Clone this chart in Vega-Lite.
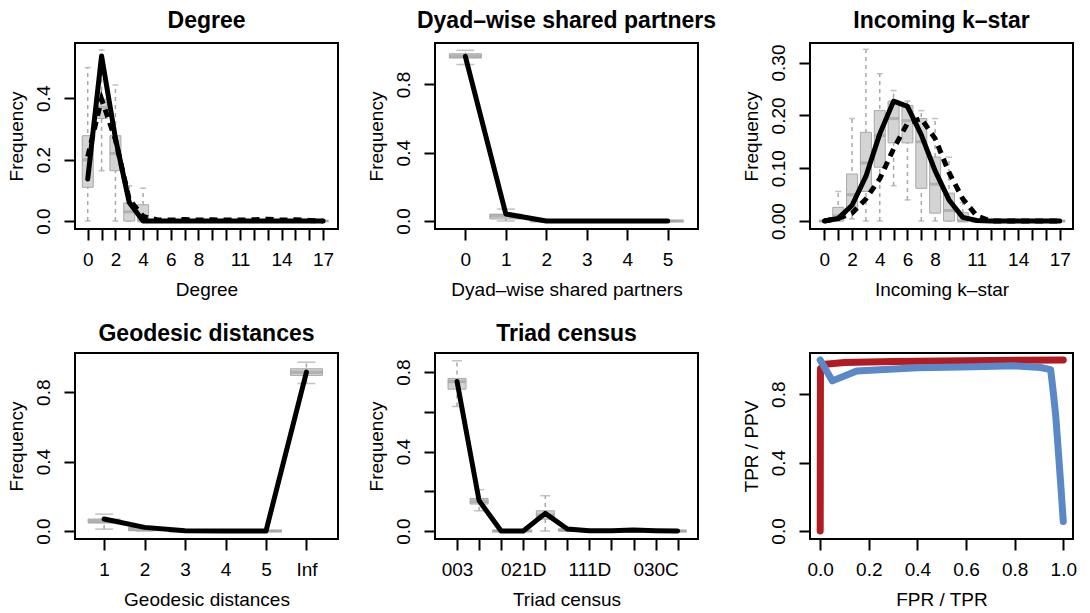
{
  "$schema": "https://vega.github.io/schema/vega-lite/v6.json",
  "background": "white",
  "padding": {"left": 5, "top": 9, "right": 0, "bottom": 0},
  "config": {
    "font": "Liberation Sans",
    "view": {"stroke": null},
    "axis": {"domain": false, "grid": false, "tickColor": "black", "tickWidth": 2, "tickSize": 11,
      "labelColor": "black", "labelFont": "Liberation Sans", "labelFontSize": 19,
      "titleFont": "Liberation Sans", "titleFontSize": 19, "titleFontWeight": "normal", "titleColor": "black",
      "labelOverlap": false, "labelFlush": false, "labelBound": false},
    "axisX": {"labelAngle": 0, "labelPadding": 10, "titlePadding": 11},
    "axisY": {"labelAngle": -90, "labelAlign": "center", "labelBaseline": "alphabetic", "labelPadding": 15, "titlePadding": 8},
    "title": {"fontSize": 23, "fontWeight": "bold", "font": "Liberation Sans", "color": "black", "anchor": "middle", "frame": "group", "offset": 10, "baseline": "alphabetic"}
  },
  "datasets": {
    "deg": [
      {"k": "0", "lo": 0, "q1": 0.11, "med": 0.2, "q3": 0.278, "hi": 0.5, "obs": 0.137, "sim": 0.21},
      {"k": "1", "lo": 0.164, "q1": 0.334, "med": 0.37, "q3": 0.397, "hi": 0.557, "obs": 0.538, "sim": 0.397},
      {"k": "2", "lo": 0, "q1": 0.164, "med": 0.22, "q3": 0.278, "hi": 0.443, "obs": 0.27, "sim": 0.265},
      {"k": "3", "lo": 0, "q1": 0, "med": 0.03, "q3": 0.059, "hi": 0.115, "obs": 0.06, "sim": 0.07},
      {"k": "4", "lo": 0, "q1": 0, "med": 0, "q3": 0.053, "hi": 0.107, "obs": 0.0, "sim": 0.015},
      {"k": "5", "lo": 0, "q1": 0, "med": 0, "q3": 0, "hi": 0, "obs": 0, "sim": 0.004},
      {"k": "6", "lo": 0, "q1": 0, "med": 0, "q3": 0, "hi": 0, "obs": 0, "sim": 0.003},
      {"k": "7", "lo": 0, "q1": 0, "med": 0, "q3": 0, "hi": 0, "obs": 0, "sim": 0.005},
      {"k": "8", "lo": 0, "q1": 0, "med": 0, "q3": 0, "hi": 0, "obs": 0, "sim": 0.003},
      {"k": "9", "lo": 0, "q1": 0, "med": 0, "q3": 0, "hi": 0, "obs": 0, "sim": 0.004},
      {"k": "10", "lo": 0, "q1": 0, "med": 0, "q3": 0, "hi": 0, "obs": 0, "sim": 0.003},
      {"k": "11", "lo": 0, "q1": 0, "med": 0, "q3": 0, "hi": 0, "obs": 0, "sim": 0.003},
      {"k": "12", "lo": 0, "q1": 0, "med": 0, "q3": 0, "hi": 0, "obs": 0, "sim": 0.004},
      {"k": "13", "lo": 0, "q1": 0, "med": 0, "q3": 0, "hi": 0, "obs": 0, "sim": 0.006},
      {"k": "14", "lo": 0, "q1": 0, "med": 0, "q3": 0, "hi": 0, "obs": 0, "sim": 0.003},
      {"k": "15", "lo": 0, "q1": 0, "med": 0, "q3": 0, "hi": 0, "obs": 0, "sim": 0.004},
      {"k": "16", "lo": 0, "q1": 0, "med": 0, "q3": 0, "hi": 0, "obs": 0, "sim": 0.002},
      {"k": "17", "lo": 0, "q1": 0, "med": 0, "q3": 0, "hi": 0, "obs": 0, "sim": 0.0}
    ],
    "dsp": [
      {"k": "0", "lo": 0.917, "q1": 0.955, "med": 0.965, "q3": 0.98, "hi": 1.0, "obs": 0.965},
      {"k": "1", "lo": 0.0, "q1": 0.012, "med": 0.03, "q3": 0.04, "hi": 0.07, "obs": 0.041},
      {"k": "2", "lo": 0, "q1": 0, "med": 0, "q3": 0.003, "hi": 0.006, "obs": 0.0},
      {"k": "3", "lo": 0, "q1": 0, "med": 0, "q3": 0, "hi": 0, "obs": 0.0},
      {"k": "4", "lo": 0, "q1": 0, "med": 0, "q3": 0, "hi": 0, "obs": 0.0},
      {"k": "5", "lo": 0, "q1": 0, "med": 0, "q3": 0, "hi": 0, "obs": 0.0}
    ],
    "ks": [
      {"k": "0", "lo": 0, "q1": 0, "med": 0, "q3": 0, "hi": 0, "obs": 0, "sim": 0},
      {"k": "1", "lo": 0, "q1": 0, "med": 0.01, "q3": 0.026, "hi": 0.056, "obs": 0.005, "sim": 0.005},
      {"k": "2", "lo": 0.004, "q1": 0.02, "med": 0.05, "q3": 0.089, "hi": 0.194, "obs": 0.03, "sim": 0.015},
      {"k": "3", "lo": 0, "q1": 0.056, "med": 0.11, "q3": 0.168, "hi": 0.325, "obs": 0.085, "sim": 0.042},
      {"k": "4", "lo": 0, "q1": 0.102, "med": 0.162, "q3": 0.209, "hi": 0.279, "obs": 0.165, "sim": 0.08},
      {"k": "5", "lo": 0.067, "q1": 0.148, "med": 0.194, "q3": 0.227, "hi": 0.247, "obs": 0.227, "sim": 0.137},
      {"k": "6", "lo": 0.04, "q1": 0.148, "med": 0.19, "q3": 0.219, "hi": 0.227, "obs": 0.217, "sim": 0.185},
      {"k": "7", "lo": 0, "q1": 0.062, "med": 0.15, "q3": 0.194, "hi": 0.209, "obs": 0.163, "sim": 0.194},
      {"k": "8", "lo": 0, "q1": 0.015, "med": 0.07, "q3": 0.121, "hi": 0.194, "obs": 0.095, "sim": 0.156},
      {"k": "9", "lo": 0, "q1": 0, "med": 0.02, "q3": 0.053, "hi": 0.121, "obs": 0.04, "sim": 0.092},
      {"k": "10", "lo": 0, "q1": 0, "med": 0, "q3": 0.016, "hi": 0.035, "obs": 0.007, "sim": 0.042},
      {"k": "11", "lo": 0, "q1": 0, "med": 0, "q3": 0, "hi": 0, "obs": 0.001, "sim": 0.01},
      {"k": "12", "lo": 0, "q1": 0, "med": 0, "q3": 0, "hi": 0, "obs": 0, "sim": 0},
      {"k": "13", "lo": 0, "q1": 0, "med": 0, "q3": 0, "hi": 0, "obs": 0, "sim": 0},
      {"k": "14", "lo": 0, "q1": 0, "med": 0, "q3": 0, "hi": 0, "obs": 0, "sim": 0},
      {"k": "15", "lo": 0, "q1": 0, "med": 0, "q3": 0, "hi": 0, "obs": 0, "sim": 0},
      {"k": "16", "lo": 0, "q1": 0, "med": 0, "q3": 0, "hi": 0, "obs": 0, "sim": 0},
      {"k": "17", "lo": 0, "q1": 0, "med": 0, "q3": 0, "hi": 0, "obs": 0, "sim": 0}
    ],
    "geo": [
      {"k": "1", "lo": 0.011, "q1": 0.046, "med": 0.057, "q3": 0.069, "hi": 0.097, "obs": 0.069},
      {"k": "2", "lo": 0, "q1": 0.002, "med": 0.01, "q3": 0.02, "hi": 0.025, "obs": 0.021},
      {"k": "3", "lo": 0, "q1": 0, "med": 0, "q3": 0, "hi": 0, "obs": 0.002},
      {"k": "4", "lo": 0, "q1": 0, "med": 0, "q3": 0, "hi": 0, "obs": 0.0},
      {"k": "5", "lo": 0, "q1": 0, "med": 0, "q3": 0, "hi": 0, "obs": 0.0},
      {"k": "Inf", "lo": 0.85, "q1": 0.897, "med": 0.915, "q3": 0.935, "hi": 0.973, "obs": 0.916}
    ],
    "tri": [
      {"k": "003", "lo": 0.627, "q1": 0.714, "med": 0.753, "q3": 0.768, "hi": 0.857, "obs": 0.753},
      {"k": "012", "lo": 0.102, "q1": 0.136, "med": 0.15, "q3": 0.164, "hi": 0.208, "obs": 0.153},
      {"k": "102", "lo": 0, "q1": 0, "med": 0, "q3": 0, "hi": 0, "obs": 0.0},
      {"k": "021D", "lo": 0, "q1": 0, "med": 0, "q3": 0, "hi": 0, "obs": 0.0},
      {"k": "021U", "lo": 0, "q1": 0.06, "med": 0.08, "q3": 0.102, "hi": 0.178, "obs": 0.089},
      {"k": "021C", "lo": 0, "q1": 0, "med": 0.005, "q3": 0.01, "hi": 0.015, "obs": 0.01},
      {"k": "111D", "lo": 0, "q1": 0, "med": 0, "q3": 0, "hi": 0, "obs": 0.002},
      {"k": "111U", "lo": 0, "q1": 0, "med": 0, "q3": 0, "hi": 0, "obs": 0.001},
      {"k": "030T", "lo": 0, "q1": 0, "med": 0, "q3": 0.003, "hi": 0.006, "obs": 0.005},
      {"k": "030C", "lo": 0, "q1": 0, "med": 0, "q3": 0, "hi": 0, "obs": 0.002},
      {"k": "201", "lo": 0, "q1": 0, "med": 0, "q3": 0, "hi": 0, "obs": 0.0}
    ],
    "roc": [
      {"x": 0.0, "y": 0.0}, {"x": 0.001, "y": 0.95}, {"x": 0.02, "y": 0.975}, {"x": 0.1, "y": 0.985},
      {"x": 0.3, "y": 0.992}, {"x": 0.6, "y": 0.996}, {"x": 1.0, "y": 1.0}
    ],
    "pr": [
      {"x": 0.0, "y": 1.0}, {"x": 0.05, "y": 0.878}, {"x": 0.15, "y": 0.936}, {"x": 0.4, "y": 0.955},
      {"x": 0.634, "y": 0.961}, {"x": 0.8, "y": 0.966}, {"x": 0.907, "y": 0.956}, {"x": 0.948, "y": 0.944},
      {"x": 0.959, "y": 0.81}, {"x": 0.969, "y": 0.673}, {"x": 0.978, "y": 0.498}, {"x": 0.989, "y": 0.284},
      {"x": 1.0, "y": 0.055}
    ]
  },
  "columns": 5,
  "spacing": {"row": 124, "column": 0},
  "bounds": "flush",
  "align": "each",
  "concat": [
    {
      "width": 263, "height": 186,
      "view": {"stroke": "black", "strokeWidth": 2},
      "title": "Degree",
      "data": {"name": "deg"},
      "encoding": {"x": {"field": "k", "type": "ordinal", "sort": null, "scale": {"type": "point", "padding": 1.22, "align": 0.46},
        "axis": {"title": "Degree", "labelExpr": "indexof(['0','2','4','6','8','11','14','17'], datum.value) >= 0 ? datum.label : ''"}}},
      "layer": [
        {"mark": {"type": "rule", "color": "#a8a8a8", "strokeDash": [4, 4], "strokeWidth": 1.5},
         "encoding": {"y": {"field": "lo", "type": "quantitative", "title": "Frequency",
           "scale": {"domain": [-0.026, 0.58], "nice": false, "zero": false},
           "axis": {"values": [0, 0.1, 0.2, 0.3, 0.4, 0.5], "labelExpr": "round(datum.value*10)%2==0 ? format(datum.value,'.1f') : ''"}},
           "y2": {"field": "hi"}}},
        {"mark": {"type": "tick", "color": "#a8a8a8", "size": 6, "thickness": 1.5}, "encoding": {"y": {"field": "lo", "type": "quantitative", "title": "Frequency"}}},
        {"mark": {"type": "tick", "color": "#a8a8a8", "size": 6, "thickness": 1.5}, "encoding": {"y": {"field": "hi", "type": "quantitative", "title": "Frequency"}}},
        {"mark": {"type": "bar", "width": 11, "fill": "#d4d4d4", "stroke": "#a8a8a8", "strokeWidth": 1},
         "encoding": {"y": {"field": "q1", "type": "quantitative", "title": "Frequency"}, "y2": {"field": "q3"}}},
        {"mark": {"type": "tick", "color": "#a3a3a3", "size": 11, "thickness": 3}, "encoding": {"y": {"field": "med", "type": "quantitative", "title": "Frequency"}}},
        {"mark": {"type": "line", "color": "black", "strokeWidth": 5, "strokeCap": "round", "strokeJoin": "round"}, "encoding": {"y": {"field": "obs", "type": "quantitative", "title": "Frequency"}}},
        {"mark": {"type": "line", "color": "black", "strokeWidth": 5, "strokeDash": [8, 6]}, "encoding": {"y": {"field": "sim", "type": "quantitative", "title": "Frequency"}}}
      ]
    },
    {"width": 97, "height": 186, "view": {"stroke": null}, "data": {"values": []}, "mark": "point"},
    {
      "width": 263, "height": 186,
      "view": {"stroke": "black", "strokeWidth": 2},
      "title": "Dyad\u2013wise shared partners",
      "data": {"name": "dsp"},
      "encoding": {"x": {"field": "k", "type": "ordinal", "sort": null, "scale": {"type": "point", "padding": 0.75, "align": 0.5},
        "axis": {"title": "Dyad\u2013wise shared partners"}}},
      "layer": [
        {"mark": {"type": "rule", "color": "#a8a8a8", "strokeDash": [4, 4], "strokeWidth": 1.5},
         "encoding": {"y": {"field": "lo", "type": "quantitative", "title": "Frequency",
           "scale": {"domain": [-0.047, 1.043], "nice": false, "zero": false},
           "axis": {"values": [0, 0.2, 0.4, 0.6, 0.8, 1.0], "labelExpr": "round(datum.value*10)%4==0 ? format(datum.value,'.1f') : ''"}},
           "y2": {"field": "hi"}}},
        {"mark": {"type": "tick", "color": "#a8a8a8", "size": 18, "thickness": 1.5}, "encoding": {"y": {"field": "lo", "type": "quantitative", "title": "Frequency"}}},
        {"mark": {"type": "tick", "color": "#a8a8a8", "size": 18, "thickness": 1.5}, "encoding": {"y": {"field": "hi", "type": "quantitative", "title": "Frequency"}}},
        {"mark": {"type": "bar", "width": 32, "fill": "#d4d4d4", "stroke": "#a8a8a8", "strokeWidth": 1},
         "encoding": {"y": {"field": "q1", "type": "quantitative", "title": "Frequency"}, "y2": {"field": "q3"}}},
        {"mark": {"type": "tick", "color": "#a3a3a3", "size": 32, "thickness": 3.5}, "encoding": {"y": {"field": "med", "type": "quantitative", "title": "Frequency"}}},
        {"mark": {"type": "line", "color": "black", "strokeWidth": 5, "strokeCap": "round", "strokeJoin": "round"}, "encoding": {"y": {"field": "obs", "type": "quantitative", "title": "Frequency"}}}
      ]
    },
    {"width": 112, "height": 186, "view": {"stroke": null}, "data": {"values": []}, "mark": "point"},
    {
      "width": 263, "height": 186,
      "view": {"stroke": "black", "strokeWidth": 2},
      "title": "Incoming k\u2013star",
      "data": {"name": "ks"},
      "encoding": {"x": {"field": "k", "type": "ordinal", "sort": null, "scale": {"type": "point", "padding": 1.22, "align": 0.52},
        "axis": {"title": "Incoming k\u2013star", "labelExpr": "indexof(['0','2','4','6','8','11','14','17'], datum.value) >= 0 ? datum.label : ''"}}},
      "layer": [
        {"mark": {"type": "rule", "color": "#a8a8a8", "strokeDash": [4, 4], "strokeWidth": 1.5},
         "encoding": {"y": {"field": "lo", "type": "quantitative", "title": "Frequency",
           "scale": {"domain": [-0.015, 0.337], "nice": false, "zero": false},
           "axis": {"values": [0, 0.05, 0.1, 0.15, 0.2, 0.25, 0.3], "labelExpr": "round(datum.value*100)%10==0 ? format(datum.value,'.2f') : ''"}},
           "y2": {"field": "hi"}}},
        {"mark": {"type": "tick", "color": "#a8a8a8", "size": 6, "thickness": 1.5}, "encoding": {"y": {"field": "lo", "type": "quantitative", "title": "Frequency"}}},
        {"mark": {"type": "tick", "color": "#a8a8a8", "size": 6, "thickness": 1.5}, "encoding": {"y": {"field": "hi", "type": "quantitative", "title": "Frequency"}}},
        {"mark": {"type": "bar", "width": 11, "fill": "#d4d4d4", "stroke": "#a8a8a8", "strokeWidth": 1},
         "encoding": {"y": {"field": "q1", "type": "quantitative", "title": "Frequency"}, "y2": {"field": "q3"}}},
        {"mark": {"type": "tick", "color": "#a3a3a3", "size": 11, "thickness": 3}, "encoding": {"y": {"field": "med", "type": "quantitative", "title": "Frequency"}}},
        {"mark": {"type": "line", "color": "black", "strokeWidth": 5, "strokeCap": "round", "strokeJoin": "round"}, "encoding": {"y": {"field": "obs", "type": "quantitative", "title": "Frequency"}}},
        {"mark": {"type": "line", "color": "black", "strokeWidth": 5, "strokeDash": [8, 6]}, "encoding": {"y": {"field": "sim", "type": "quantitative", "title": "Frequency"}}}
      ]
    },
    {
      "width": 263, "height": 186,
      "view": {"stroke": "black", "strokeWidth": 2},
      "title": {"text": "Geodesic distances", "offset": 7},
      "data": {"name": "geo"},
      "encoding": {"x": {"field": "k", "type": "ordinal", "sort": null, "scale": {"type": "point", "padding": 0.75, "align": 0.48},
        "axis": {"title": "Geodesic distances"}}},
      "layer": [
        {"mark": {"type": "rule", "color": "#a8a8a8", "strokeDash": [4, 4], "strokeWidth": 1.5},
         "encoding": {"y": {"field": "lo", "type": "quantitative", "title": "Frequency",
           "scale": {"domain": [-0.046, 1.026], "nice": false, "zero": false},
           "axis": {"values": [0, 0.2, 0.4, 0.6, 0.8, 1.0], "labelExpr": "round(datum.value*10)%4==0 ? format(datum.value,'.1f') : ''"}},
           "y2": {"field": "hi"}}},
        {"mark": {"type": "tick", "color": "#a8a8a8", "size": 18, "thickness": 1.5}, "encoding": {"y": {"field": "lo", "type": "quantitative", "title": "Frequency"}}},
        {"mark": {"type": "tick", "color": "#a8a8a8", "size": 18, "thickness": 1.5}, "encoding": {"y": {"field": "hi", "type": "quantitative", "title": "Frequency"}}},
        {"mark": {"type": "bar", "width": 32, "fill": "#d4d4d4", "stroke": "#a8a8a8", "strokeWidth": 1},
         "encoding": {"y": {"field": "q1", "type": "quantitative", "title": "Frequency"}, "y2": {"field": "q3"}}},
        {"mark": {"type": "tick", "color": "#a3a3a3", "size": 32, "thickness": 3.5}, "encoding": {"y": {"field": "med", "type": "quantitative", "title": "Frequency"}}},
        {"mark": {"type": "line", "color": "black", "strokeWidth": 5, "strokeCap": "round", "strokeJoin": "round"}, "encoding": {"y": {"field": "obs", "type": "quantitative", "title": "Frequency"}}}
      ]
    },
    {"width": 97, "height": 186, "view": {"stroke": null}, "data": {"values": []}, "mark": "point"},
    {
      "width": 263, "height": 186,
      "view": {"stroke": "black", "strokeWidth": 2},
      "title": {"text": "Triad census", "offset": 7},
      "data": {"name": "tri"},
      "encoding": {"x": {"field": "k", "type": "ordinal", "sort": null, "scale": {"type": "point", "padding": 0.96, "align": 0.52},
        "axis": {"title": "Triad census", "labelExpr": "indexof(['003','021D','111D','030C'], datum.value) >= 0 ? datum.label : ''"}}},
      "layer": [
        {"mark": {"type": "rule", "color": "#a8a8a8", "strokeDash": [4, 4], "strokeWidth": 1.5},
         "encoding": {"y": {"field": "lo", "type": "quantitative", "title": "Frequency",
           "scale": {"domain": [-0.04, 0.896], "nice": false, "zero": false},
           "axis": {"values": [0, 0.2, 0.4, 0.6, 0.8], "labelExpr": "round(datum.value*10)%4==0 ? format(datum.value,'.1f') : ''"}},
           "y2": {"field": "hi"}}},
        {"mark": {"type": "tick", "color": "#a8a8a8", "size": 10, "thickness": 1.5}, "encoding": {"y": {"field": "lo", "type": "quantitative", "title": "Frequency"}}},
        {"mark": {"type": "tick", "color": "#a8a8a8", "size": 10, "thickness": 1.5}, "encoding": {"y": {"field": "hi", "type": "quantitative", "title": "Frequency"}}},
        {"mark": {"type": "bar", "width": 18, "fill": "#d4d4d4", "stroke": "#a8a8a8", "strokeWidth": 1},
         "encoding": {"y": {"field": "q1", "type": "quantitative", "title": "Frequency"}, "y2": {"field": "q3"}}},
        {"mark": {"type": "tick", "color": "#a3a3a3", "size": 18, "thickness": 3.5}, "encoding": {"y": {"field": "med", "type": "quantitative", "title": "Frequency"}}},
        {"mark": {"type": "line", "color": "black", "strokeWidth": 5, "strokeCap": "round", "strokeJoin": "round"}, "encoding": {"y": {"field": "obs", "type": "quantitative", "title": "Frequency"}}}
      ]
    },
    {"width": 112, "height": 186, "view": {"stroke": null}, "data": {"values": []}, "mark": "point"},
    {
      "width": 263, "height": 186,
      "view": {"stroke": "black", "strokeWidth": 2},
      "layer": [
        {"data": {"name": "roc"},
         "mark": {"type": "line", "color": "#b31b22", "strokeWidth": 7, "strokeCap": "round", "strokeJoin": "round"},
         "encoding": {
           "x": {"field": "x", "type": "quantitative", "title": "FPR / TPR",
             "scale": {"domain": [-0.042, 1.04], "nice": false, "zero": false},
             "axis": {"values": [0, 0.2, 0.4, 0.6, 0.8, 1.0], "format": ".1f"}},
           "y": {"field": "y", "type": "quantitative", "title": "TPR / PPV",
             "scale": {"domain": [-0.047, 1.041], "nice": false, "zero": false},
             "axis": {"values": [0, 0.2, 0.4, 0.6, 0.8, 1.0], "labelExpr": "round(datum.value*10)%4==0 ? format(datum.value,'.1f') : ''"}}}},
        {"data": {"name": "pr"},
         "mark": {"type": "line", "color": "#5b88c6", "strokeWidth": 7, "strokeCap": "round", "strokeJoin": "round"},
         "encoding": {
           "x": {"field": "x", "type": "quantitative", "title": "FPR / TPR"},
           "y": {"field": "y", "type": "quantitative", "title": "TPR / PPV"}}}
      ]
    }
  ]
}
